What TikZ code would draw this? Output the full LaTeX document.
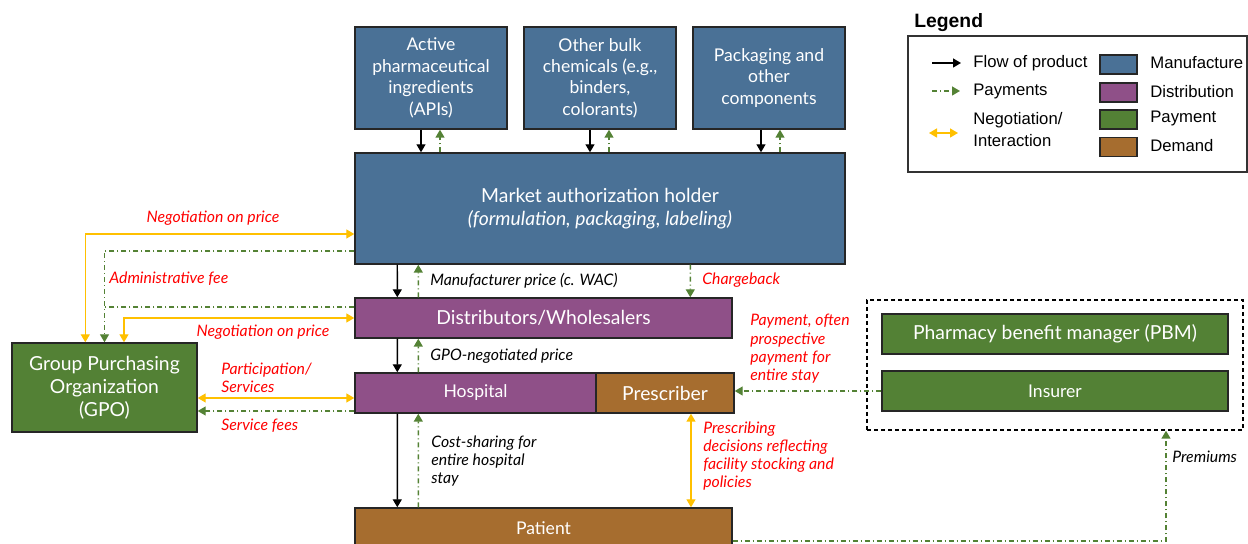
\documentclass[tikz,border=0pt]{standalone}
\usepackage{fontspec}
\setmainfont{Lato}
\newfontfamily\legendfont{Liberation Sans}
\usetikzlibrary{arrows.meta}

\definecolor{manuf}{RGB}{74,113,150}
\definecolor{distr}{RGB}{143,80,136}
\definecolor{paym}{RGB}{83,129,53}
\definecolor{demand}{RGB}{166,109,47}
\definecolor{negocol}{RGB}{255,192,0}
\definecolor{paycol}{RGB}{84,130,53}

\begin{document}
\begin{tikzpicture}[
                x=0.2mm, y=-0.2mm,
                box/.style={draw=black!85, line width=0.8pt, text=white, align=center, inner sep=1pt, font=\fontsize{10}{12.2}\selectfont},
                bigtext/.style={font=\fontsize{11}{13}\selectfont},
                manubox/.style={box, fill=manuf},
                distbox/.style={box, fill=distr},
                paybox/.style={box, fill=paym},
                demandbox/.style={box, fill=demand},
                swatch/.style={draw=black!85, line width=0.8pt, minimum width=7.4mm, minimum height=3.8mm, inner sep=0pt},
                flow/.style={-{Triangle[length=1.6mm,width=1.8mm]}, line width=0.8pt},
                payline/.style={-{Triangle[length=1.6mm,width=1.8mm]}, line width=0.8pt, draw=paycol,
                    dash pattern=on 1mm off 0.6mm on 0.2mm off 0.6mm},
                negoline/.style={{Triangle[length=1.6mm,width=1.8mm]}-{Triangle[length=1.6mm,width=1.8mm]}, line width=0.8pt, draw=negocol},
                lbl/.style={font=\itshape\fontsize{9}{10.4}\selectfont, align=left, inner sep=0pt, anchor=west},
                redlbl/.style={lbl, text=red},
                legtext/.style={font=\legendfont\fontsize{9.5}{12.5}\selectfont, align=left, inner sep=0pt, anchor=west}
            ]

            \useasboundingbox (0,0) rectangle (1248,544);

            % Inputs
            \node[manubox, minimum width=30.4mm, minimum height=20.4mm] (api) at (431,78) {Active\\pharmaceutical\\ingredients\\(APIs)};
            \node[manubox, minimum width=30.4mm, minimum height=20.4mm] (bulk) at (600,78) {Other bulk\\chemicals (e.g.,\\binders,\\colorants)};
            \node[manubox, minimum width=30.4mm, minimum height=20.4mm] (pack) at (769,78) {Packaging and\\other\\components};

            % Supply chain
            \node[manubox, bigtext, minimum width=98mm, minimum height=22.2mm] (mah) at (600,208.5) {Market authorization holder\\\textit{(formulation, packaging, labeling)}};
            \node[distbox, bigtext, minimum width=75.4mm, minimum height=8mm] (dist) at (543.5,318) {Distributors/Wholesalers};
            \node[distbox, minimum width=48.2mm, minimum height=8mm] (hosp) at (475.5,393) {Hospital};
            \node[demandbox, bigtext, minimum width=27.6mm, minimum height=8mm] (presc) at (665,393) {Prescriber};
            \node[demandbox, minimum width=75.4mm, minimum height=8mm] (patient) at (543.5,528) {Patient};
            \node[paybox, bigtext, minimum width=37mm, minimum height=17.8mm] (gpo) at (104.5,387.5) {Group Purchasing\\Organization\\(GPO)};

            % Payers
            \node[draw, line width=0.8pt, dash pattern=on 0.8mm off 0.6mm, minimum width=75.2mm, minimum height=26mm] (payers) at (1055,365) {};
            \node[paybox, bigtext, minimum width=69.2mm, minimum height=8mm] (pbm) at (1055,334) {Pharmacy benefit manager (PBM)};
            \node[paybox, minimum width=69.2mm, minimum height=8mm] (insurer) at (1055,391) {Insurer};

            % Inputs to MAH
            \draw[flow] ([xshift=-2mm]api.south) -- ([xshift=-2mm]api.south |- mah.north);
            \draw[payline] ([xshift=1.8mm]api.south |- mah.north) -- ([xshift=1.8mm]api.south);
            \draw[flow] ([xshift=-2mm]bulk.south) -- ([xshift=-2mm]bulk.south |- mah.north);
            \draw[payline] ([xshift=1.8mm]bulk.south |- mah.north) -- ([xshift=1.8mm]bulk.south);
            \draw[flow] ([xshift=-1.6mm]pack.south) -- ([xshift=-1.6mm]pack.south |- mah.north);
            \draw[payline] ([xshift=2.2mm]pack.south |- mah.north) -- ([xshift=2.2mm]pack.south);

            % Down the chain
            \draw[flow] ([xshift=8.6mm]mah.south west) -- ([xshift=8.6mm]dist.north west);
            \draw[payline] ([xshift=12.8mm]dist.north west) -- ([xshift=12.8mm]mah.south west);
            \draw[payline] ([xshift=67.2mm]mah.south west) -- ([xshift=67.2mm]dist.north west);
            \draw[flow] ([xshift=8.6mm]dist.south west) -- ([xshift=8.6mm]hosp.north west);
            \draw[payline] ([xshift=12.8mm]hosp.north west) -- ([xshift=12.8mm]dist.south west);
            \draw[flow] ([xshift=8.6mm]hosp.south west) -- ([xshift=8.6mm]patient.north west);
            \draw[payline] ([xshift=12.8mm]patient.north west) -- ([xshift=12.8mm]hosp.south west);
            \draw[negoline] ([xshift=5.2mm]presc.south) -- ([xshift=5.2mm]presc.south |- patient.north);

            % Payers
            \draw[payline] (insurer.west) -- (insurer.west -| presc.east);
            \draw[payline] ([yshift=-2.6mm]patient.east) -| ([xshift=22.2mm]payers.south);

            % GPO
            \draw[negoline] ([xshift=14.8mm]gpo.north west) |- ([yshift=-5.1mm]mah.west);
            \draw[payline] ([yshift=-8.5mm]mah.west) -| (gpo.north);
            \draw[payline, -] ([yshift=2.2mm]dist.west) -- ([yshift=2.2mm]dist.west -| gpo.north);
            \draw[negoline] (dist.west) -| ([xshift=3.9mm]gpo.north);
            \draw[negoline] ([yshift=-1mm]hosp.west) -- ([yshift=-1mm]hosp.west -| gpo.east);
            \draw[payline] ([yshift=-3.6mm]hosp.west) -- ([yshift=-3.6mm]hosp.west -| gpo.east);

            % Labels
            \node[redlbl, anchor=center] (lnego1) at (213,218) {Negotiation on price};
            \node[redlbl] (ladmin) at (109,279) {Administrative fee};
            \node[redlbl, anchor=center] (lnego2) at (263,332) {Negotiation on price};
            \node[redlbl] (lpart) at (221,378) {Participation/\\Services};
            \node[redlbl] (lserv) at (221,426) {Service fees};
            \node[lbl] (lwac) at (430,281) {Manufacturer price (c. WAC)};
            \node[redlbl] (lcharge) at (702,280) {Chargeback};
            \node[lbl] (lgponeg) at (430,356) {GPO-negotiated price};
            \node[lbl] (lcost) at (431,461) {Cost-sharing for\\entire hospital\\stay};
            \node[redlbl] (lpresc) at (703,456) {Prescribing\\decisions reflecting\\facility stocking and\\policies};
            \node[redlbl] (lpay) at (750,349) {Payment, often\\prospective\\payment for\\entire stay};
            \node[lbl] (lprem) at (1172,457) {Premiums};

            % Legend
            \node[font=\legendfont\bfseries\fontsize{11}{13}\selectfont, inner sep=0pt, anchor=west] (legtitle) at (914,23) {Legend};
            \node[draw=black!80, line width=0.8pt, minimum width=67.8mm, minimum height=27.2mm] (legbox) at (1077.5,104) {};
            \node[legtext] (legflow) at (973,63) {Flow of product};
            \node[legtext] (legpay) at (973,91) {Payments};
            \node[legtext] (legnego) at (973,130) {Negotiation/\\Interaction};
            \draw[flow] ([xshift=-8.2mm]legflow.west) -- ([xshift=-2.4mm]legflow.west);
            \draw[payline] ([xshift=-8.2mm]legpay.west) -- ([xshift=-2.6mm]legpay.west);
            \draw[negoline] ([xshift=-8.8mm,yshift=-0.6mm]legnego.west) -- ([xshift=-3mm,yshift=-0.6mm]legnego.west);
            \node[swatch, fill=manuf] (swmanuf) at (1118.5,64.5) {};
            \node[swatch, fill=distr] (swdistr) at (1118.5,92.5) {};
            \node[swatch, fill=paym] (swpaym) at (1118.5,119.5) {};
            \node[swatch, fill=demand] (swdemand) at (1118.5,147) {};
            \node[legtext] (legmanuf) at (1150,63) {Manufacture};
            \node[legtext] (legdistr) at (1150,92) {Distribution};
            \node[legtext] (legpaym) at (1150,118) {Payment};
            \node[legtext] (legdemand) at (1150,146) {Demand};

        \end{tikzpicture}
\end{document}
